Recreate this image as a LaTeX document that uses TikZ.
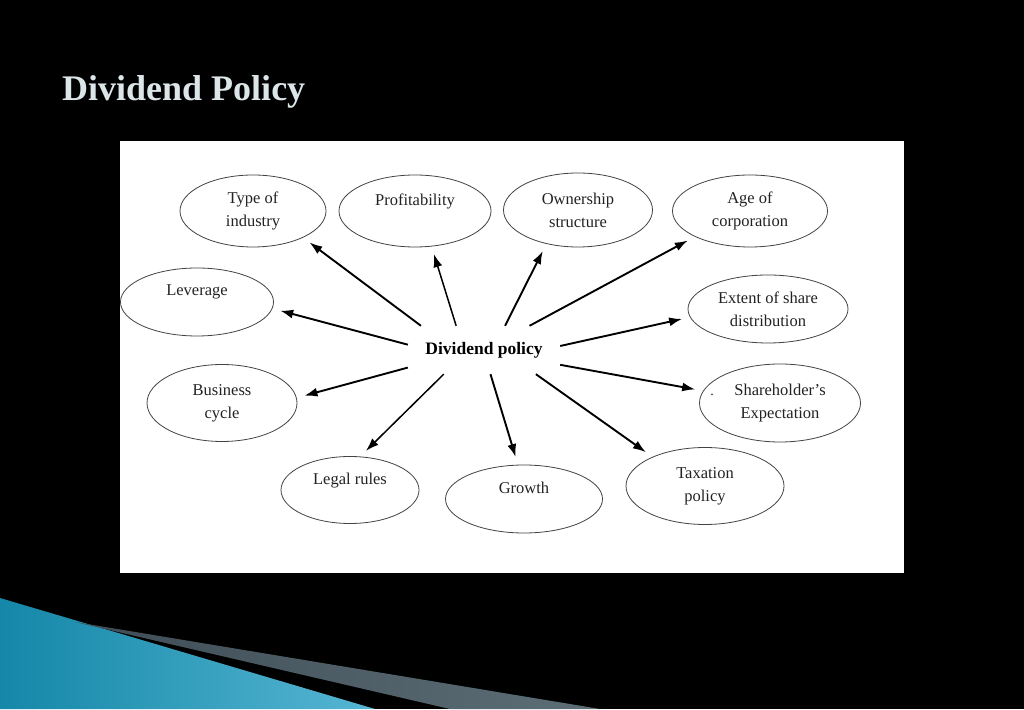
\documentclass[tikz,border=0pt]{standalone}
\usepackage{fontspec}
\setmainfont{Liberation Serif}
\usetikzlibrary{shapes.geometric}
\usetikzlibrary{arrows.meta}
\definecolor{slide-teal}{HTML}{1587A8}
\definecolor{slide-teal-light}{HTML}{55B6D3}
\definecolor{slide-grey}{HTML}{3E4D55}
\definecolor{slide-grey-light}{HTML}{5E6E76}
\definecolor{title-white}{HTML}{DCE5E8}
\definecolor{ink}{HTML}{222222}
\tikzstyle{factor}=[ellipse, draw=ink!85, line width=0.8pt, inner sep=0pt, align=center, text=ink, font=\fontsize{16.5}{23}\selectfont]
\tikzstyle{influence}=[-{Latex[length=13pt,width=9pt]}, line width=1.9pt, shorten >=8pt]
\tikzstyle{hub}=[rectangle, minimum width=152pt, minimum height=48pt, inner sep=0pt, font=\fontsize{17.5}{20}\selectfont\bfseries]

\begin{document}
\begin{tikzpicture}[x=1pt,y=1pt]
% slide background
\fill[black] (0,0) rectangle (1024,709);
\useasboundingbox (0,0) rectangle (1024,709);
% corner decoration
\shade[left color=slide-teal, right color=slide-teal-light] (0,111) -- (375,0) -- (0,0) -- cycle;
\shade[left color=slide-grey, right color=slide-grey-light] (75,87) -- (600,0) -- (450,0) -- cycle;
% title
\node[anchor=base west, inner sep=0pt, text=title-white, font=\fontsize{36}{40}\selectfont\bfseries] (title) at (62,608) {Dividend Policy};
% white panel
\fill[white] (120,136) rectangle (904,568);
% centre
\node[hub] (dp) at (484,359) {Dividend policy};
% factors
\node[factor, minimum width=146pt, minimum height=72pt] (ti) at (253,498) {Type of\\industry};
\node[factor, minimum width=152pt, minimum height=72pt] (pr) at (415,498) {Profitability\\\mbox{}};
\node[factor, minimum width=149pt, minimum height=74pt] (os) at (578,499) {Ownership\\structure};
\node[factor, minimum width=155pt, minimum height=72pt] (ac) at (750,498) {Age of\\corporation};
\node[factor, minimum width=153pt, minimum height=68pt] (lv) at (197,407) {Leverage\\\mbox{}};
\node[factor, minimum width=160pt, minimum height=68pt] (es) at (768,400) {Extent of share\\distribution};
\node[factor, minimum width=150pt, minimum height=77pt] (bc) at (222,306) {Business\\cycle};
\node[factor, minimum width=138pt, minimum height=67pt] (lr) at (350,219) {Legal rules\\\mbox{}};
\node[factor, minimum width=157pt, minimum height=68pt] (gr) at (524,210) {Growth\\\mbox{}};
\node[factor, minimum width=161pt, minimum height=78pt] (se) at (780,306) {Shareholder's\\Expectation};
\node[factor, minimum width=158pt, minimum height=77pt] (tp) at (705,223) {Taxation\\policy};
\node[text=ink, inner sep=0pt, font=\fontsize{14}{16}\selectfont] (stray) at (712,314) {.};
% arrows out of the centre
\draw[influence] (dp.159) -- (ti.-28);
\draw[influence, line width=1.5pt] (dp.139) -- (pr.-65);
\draw[influence] (dp.49) -- (os.-133);
\draw[influence] (dp.28) -- (ac.-155);
\draw[influence] (dp.176) -- (lv.-5);
\draw[influence] (dp.3) -- (es.186);
\draw[influence] (dp.193) -- (bc.4);
\draw[influence, line width=1.5pt] (dp.211) -- (lr.73);
\draw[influence] (dp.285) -- (gr.100);
\draw[influence] (dp.-11) -- (se.171);
\draw[influence] (dp.-25) -- (tp.151);
\end{tikzpicture}
\end{document}
